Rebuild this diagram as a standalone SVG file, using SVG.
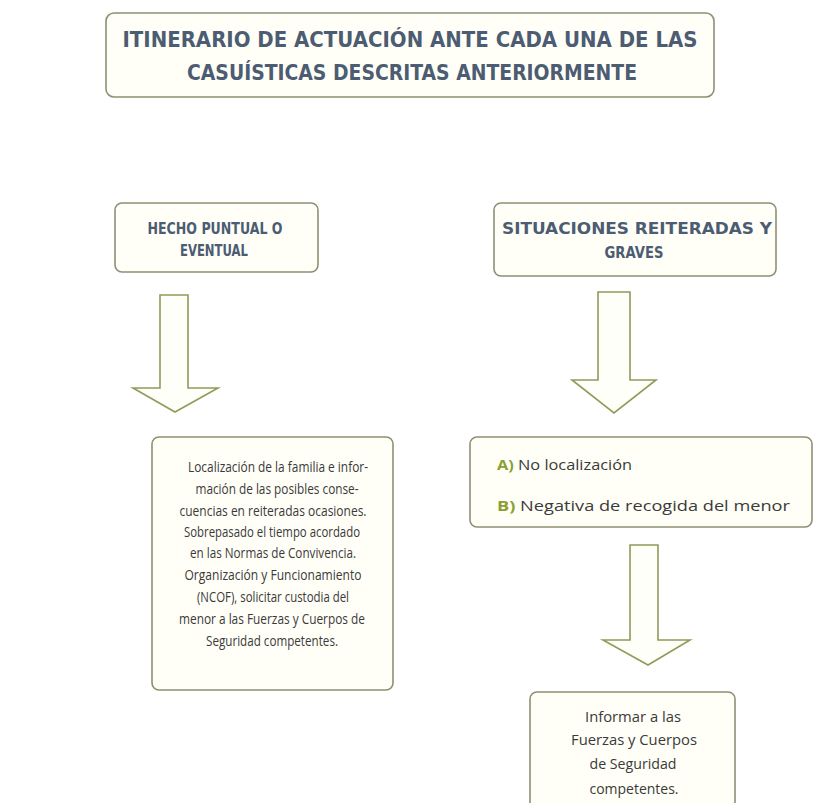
<svg xmlns="http://www.w3.org/2000/svg" width="815" height="803" viewBox="0 0 815 803">
<style>
.box{fill:#fffff7;stroke:#8e9072;stroke-width:1.6}
.arrow{fill:#fffffa;stroke:#8f9c5a;stroke-width:1.6;stroke-linejoin:miter}
.hd{font-family:"DejaVu Sans","Liberation Sans",sans-serif;font-weight:bold;fill:#4c5c72;text-anchor:middle}
.tx{font-family:"Open Sans","Liberation Sans",sans-serif;fill:#3a3a3a;font-size:14.5px;text-anchor:middle}
.tl{font-family:"Open Sans","Liberation Sans",sans-serif;fill:#3a3a3a;font-size:15px}
.gr{fill:#8aa035;font-weight:bold}
</style>
<rect width="815" height="803" fill="#ffffff"/>
<g id="title">
<rect class="box" x="106" y="13" width="608" height="84" rx="8"/>
<text class="hd" x="410" y="47" font-size="21" textLength="575" lengthAdjust="spacingAndGlyphs">ITINERARIO DE ACTUACIÓN ANTE CADA UNA DE LAS</text>
<text class="hd" x="412" y="80" font-size="21" textLength="450" lengthAdjust="spacingAndGlyphs">CASUÍSTICAS DESCRITAS ANTERIORMENTE</text>
</g>
<g id="hecho">
<rect class="box" x="115" y="203" width="203" height="69" rx="7"/>
<text class="hd" x="215" y="234" font-size="16" textLength="135" lengthAdjust="spacingAndGlyphs">HECHO PUNTUAL O</text>
<text class="hd" x="214" y="256" font-size="16" textLength="68" lengthAdjust="spacingAndGlyphs">EVENTUAL</text>
</g>
<g id="situaciones">
<rect class="box" x="494" y="203" width="282" height="73" rx="7"/>
<text class="hd" x="637" y="234" font-size="16" textLength="270" lengthAdjust="spacingAndGlyphs">SITUACIONES REITERADAS Y</text>
<text class="hd" x="634" y="258" font-size="16" textLength="59" lengthAdjust="spacingAndGlyphs">GRAVES</text>
</g>
<g id="localizacion">
<rect class="box" x="152" y="437" width="241" height="253" rx="7"/>
<text class="tx" x="278" y="472" textLength="180" lengthAdjust="spacingAndGlyphs">Localización de la familia e infor-</text>
<text class="tx" x="277" y="494" textLength="163" lengthAdjust="spacingAndGlyphs">mación de las posibles conse-</text>
<text class="tx" x="273" y="516" textLength="187" lengthAdjust="spacingAndGlyphs">cuencias en reiteradas ocasiones.</text>
<text class="tx" x="272" y="537" textLength="176" lengthAdjust="spacingAndGlyphs">Sobrepasado el tiempo acordado</text>
<text class="tx" x="273" y="558" textLength="166" lengthAdjust="spacingAndGlyphs">en las Normas de Convivencia.</text>
<text class="tx" x="273" y="580" textLength="177" lengthAdjust="spacingAndGlyphs">Organización y Funcionamiento</text>
<text class="tx" x="273" y="602" textLength="152" lengthAdjust="spacingAndGlyphs">(NCOF), solicitar custodia del</text>
<text class="tx" x="272" y="624" textLength="186" lengthAdjust="spacingAndGlyphs">menor a las Fuerzas y Cuerpos de</text>
<text class="tx" x="272" y="646" textLength="132" lengthAdjust="spacingAndGlyphs">Seguridad competentes.</text>
</g>
<g id="no-localizacion">
<rect class="box" x="470" y="437" width="342" height="90" rx="7"/>
<text class="tl" x="497" y="470" textLength="135" lengthAdjust="spacingAndGlyphs"><tspan class="gr">A)</tspan> No localización</text>
<text class="tl" x="497" y="511" textLength="293" lengthAdjust="spacingAndGlyphs"><tspan class="gr">B)</tspan> Negativa de recogida del menor</text>
</g>
<g id="informar">
<rect class="box" x="530" y="692" width="205" height="120" rx="7"/>
<text class="tx" x="633" y="722" textLength="96" lengthAdjust="spacingAndGlyphs">Informar a las</text>
<text class="tx" x="634" y="745" textLength="126" lengthAdjust="spacingAndGlyphs">Fuerzas y Cuerpos</text>
<text class="tx" x="633" y="769" textLength="87" lengthAdjust="spacingAndGlyphs">de Seguridad</text>
<text class="tx" x="634" y="794" textLength="89" lengthAdjust="spacingAndGlyphs">competentes.</text>
</g>
<g id="connectors">
<path class="arrow" d="M160,295 H188 V388 H218 L175,412 L133,388 H160 Z"/>
<path class="arrow" d="M598,292 H630 V380 H656 L614,413 L572,380 H598 Z"/>
<path class="arrow" d="M630,545 H658 V640 H690 L648,665 L603,640 H630 Z"/>
</g>
</svg>
